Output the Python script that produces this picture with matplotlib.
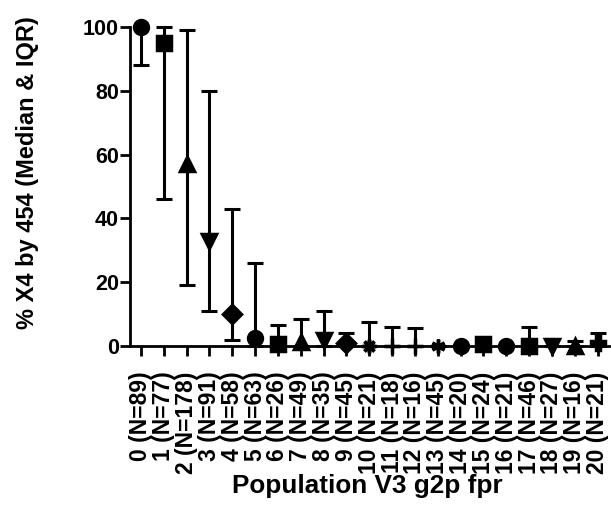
import matplotlib
matplotlib.use("Agg")
import matplotlib.pyplot as plt

plt.rcParams['font.family'] = ['Liberation Sans', 'DejaVu Sans']
plt.rcParams['font.weight'] = 'bold'

# data
groups = list(range(21))
n_counts = [89, 77, 178, 91, 58, 63, 26, 49, 35, 45, 21, 18, 16, 45, 20, 24, 21, 46, 27, 16, 21]
medians = [100, 95, 57, 33, 10, 2.5, 0.6, 1.2, 2, 1, 0, 0, 0, 0, 0, 0.5, 0, 0, 0, 0, 1]
q1 = [88, 46, 19, 11, 2, 0, 0, 0, 0, 0, 0, 0, 0, 0, 0, 0, 0, 0, 0, 0, 0]
q3 = [100, 100, 99, 80, 43, 26, 6.5, 8.5, 11, 4, 7.5, 6, 5.5, 0, 0, 0.5, 0, 6, 0, 1.5, 4]
markers = ['o', 's', '^', 'v', 'D', 'o', 's', '^', 'v', 'D',
           (8, 2, 0), '+', '+', (6, 2, 0), 'o', 's', 'o', 's', 'v', '^', 'P']
tick_labels = ['{} (N={})'.format(g, n) for g, n in zip(groups, n_counts)]

fig = plt.figure(figsize=(6.11, 5.05), dpi=100)
ax = fig.add_axes([0.2128, 0.3149, 0.7839, 0.6316])

lo = [m - a for m, a in zip(medians, q1)]
hi = [b - m for m, b in zip(medians, q3)]
ax.errorbar(groups, medians, yerr=[lo, hi], fmt='none', ecolor='black',
            elinewidth=2.2, capsize=5.5, capthick=2.2, clip_on=False, zorder=3)
for g, m, mk in zip(groups, medians, markers):
    ms = 11 if mk in ('+',) else 10
    if mk == 'D':
        ms = 9
    ax.plot(g, m, marker=mk, color='black', markersize=ms, mew=2.5,
            linestyle='none', clip_on=False, zorder=4)

ax.set_xlim(-0.48, 20.5)
ax.set_ylim(0, 100)
ax.set_yticks([0, 20, 40, 60, 80, 100])
ax.set_xticks(groups)
ax.set_xticklabels(tick_labels, rotation=90, fontsize=16.5, fontweight='bold')
ax.tick_params(axis='y', labelsize=15.5, width=2, length=7, pad=1)
ax.tick_params(axis='x', width=2, length=7.5, pad=11)
for lbl in ax.get_yticklabels():
    lbl.set_fontweight('bold')

for side in ['top', 'right']:
    ax.spines[side].set_visible(False)
for side in ['left', 'bottom']:
    ax.spines[side].set_linewidth(2)

ax.set_xlabel('Population V3 g2p fpr', fontsize=18.8, fontweight='bold')
ax.set_ylabel('% X4 by 454 (Median & IQR)', fontsize=17, fontweight='bold')
ax.xaxis.set_label_coords(0.495, -0.401)
ax.yaxis.set_label_coords(-0.19, 0.545)

plt.savefig('out.png', dpi=100)
